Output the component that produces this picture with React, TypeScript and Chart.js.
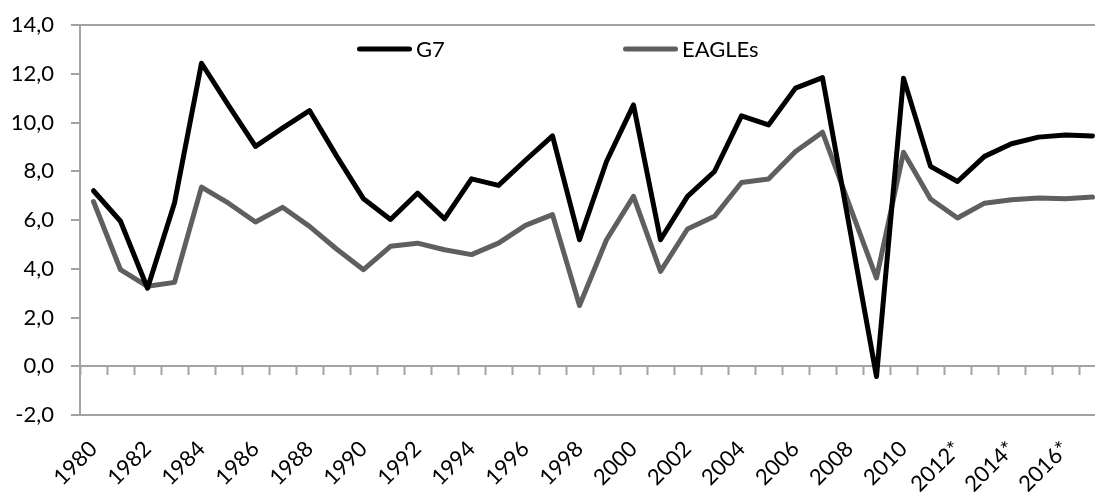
import React, { useEffect, useRef } from 'react';
import { Chart, registerables } from 'chart.js';

Chart.register(...registerables);

const categories = [
  '1980', '1981', '1982', '1983', '1984', '1985', '1986', '1987', '1988', '1989',
  '1990', '1991', '1992', '1993', '1994', '1995', '1996', '1997', '1998', '1999',
  '2000', '2001', '2002', '2003', '2004', '2005', '2006', '2007', '2008', '2009',
  '2010', '2011', '2012*', '2013*', '2014*', '2015*', '2016*', '2017*',
];

const g7 = [
  7.2, 5.95, 3.2, 6.7, 12.43, 10.7, 9.02, 9.77, 10.49, 8.63,
  6.87, 6.02, 7.1, 6.05, 7.69, 7.42, 8.45, 9.45, 5.19, 8.4,
  10.72, 5.19, 6.97, 7.99, 10.27, 9.9, 11.41, 11.84, 5.7, -0.42,
  11.82, 8.2, 7.58, 8.61, 9.13, 9.4, 9.49, 9.45,
];

const eagles = [
  6.76, 3.96, 3.28, 3.44, 7.35, 6.69, 5.92, 6.52, 5.74, 4.81,
  3.96, 4.92, 5.05, 4.78, 4.58, 5.05, 5.78, 6.22, 2.49, 5.19,
  6.97, 3.89, 5.63, 6.15, 7.54, 7.68, 8.81, 9.6, 6.6, 3.62,
  8.78, 6.86, 6.08, 6.69, 6.83, 6.9, 6.87, 6.94,
];

const seriesNames = ['G7', 'EAGLEs'];
const yMin = -2;
const yMax = 14;
const yStep = 2;

const FONT = 'Lato';
const GRAY = '#a3a3a3';
const COLORS = ['#000000', '#5f5f5f'];

const legendPlugin = {
  id: 'inlineLegend',
  afterDraw(chart: any) {
    const ctx = chart.ctx;
    const starts = [357, 623];
    const y = 49;
    ctx.save();
    chart.data.datasets.forEach((ds: any, i: number) => {
      const x = starts[i];
      ctx.strokeStyle = ds.borderColor;
      ctx.lineWidth = 5;
      ctx.lineCap = 'round';
      ctx.beginPath();
      ctx.moveTo(x + 2.5, y);
      ctx.lineTo(x + 52.5, y);
      ctx.stroke();
      ctx.fillStyle = '#000';
      ctx.font = `22px ${FONT}`;
      ctx.textBaseline = 'middle';
      ctx.textAlign = 'left';
      ctx.fillText(ds.label, x + 59, y + 1);
    });
    ctx.restore();
  },
};

export default function App() {
  const ref = useRef<HTMLCanvasElement | null>(null);

  useEffect(() => {
    if (!ref.current) return;
    const chart = new Chart(ref.current, {
      type: 'line',
      data: {
        labels: categories,
        datasets: [
          {
            label: seriesNames[0],
            data: g7,
            borderColor: COLORS[0],
            backgroundColor: COLORS[0],
            borderWidth: 5,
            pointRadius: 0,
            tension: 0,
            borderJoinStyle: 'round',
            borderCapStyle: 'round',
          },
          {
            label: seriesNames[1],
            data: eagles,
            borderColor: COLORS[1],
            backgroundColor: COLORS[1],
            borderWidth: 5,
            pointRadius: 0,
            tension: 0,
            borderJoinStyle: 'round',
            borderCapStyle: 'round',
          },
        ],
      },
      options: {
        animation: false,
        responsive: true,
        maintainAspectRatio: false,
        devicePixelRatio: 1,
        layout: { padding: { top: 25, right: 4, left: 0, bottom: 0 } },
        plugins: {
          legend: { display: false },
          tooltip: { enabled: false },
        },
        scales: {
          x: {
            type: 'category',
            position: 'bottom',
            offset: true,
            grid: { display: false, drawTicks: false },
            border: { display: false },
            afterFit: (s: any) => {
              s.height = 498 - 415;
              s.paddingLeft = 0;
              s.paddingRight = 0;
            },
            ticks: {
              autoSkip: false,
              maxRotation: 45,
              minRotation: 45,
              padding: 21,
              color: '#000',
              font: { family: FONT, size: 22 },
              callback: (_v: any, i: number) => (i % 2 === 0 ? categories[i] : ''),
            },
          },
          x2: {
            type: 'category',
            position: { y: 0 } as any,
            offset: true,
            grid: {
              offset: true,
              drawOnChartArea: false,
              drawTicks: true,
              tickLength: 8,
              tickColor: GRAY,
              tickWidth: 2,
            },
            border: { display: true, color: GRAY, width: 2 },
            ticks: { display: false },
            afterFit: (s: any) => {
              s.paddingLeft = 0;
              s.paddingRight = 0;
            },
          },
          y: {
            type: 'linear',
            position: 'left',
            min: yMin,
            max: yMax,
            afterFit: (s: any) => {
              s.width = 80;
              s.paddingTop = 0;
              s.paddingBottom = 0;
            },
            grid: {
              color: (c: any) =>
                c.tick && (c.tick.value === yMax || c.tick.value === yMin) ? GRAY : 'rgba(0,0,0,0)',
              lineWidth: 2,
              drawTicks: true,
              tickLength: 9,
              tickColor: GRAY,
              tickWidth: 2,
            },
            border: { display: true, color: GRAY, width: 2 },
            ticks: {
              stepSize: yStep,
              padding: 17,
              color: '#000',
              font: { family: FONT, size: 22 },
              callback: (v: any) => Number(v).toFixed(1).replace('.', ','),
            },
          },
        },
      },
      plugins: [legendPlugin],
    });
    return () => chart.destroy();
  }, []);

  return (
    <div
      style={{
        position: 'fixed',
        left: 0,
        top: 0,
        width: 1095,
        height: 498,
        overflow: 'hidden',
        background: '#fff',
      }}
    >
      <div style={{ position: 'relative', width: 1110, height: 498 }}>
        <canvas ref={ref} />
      </div>
    </div>
  );
}
